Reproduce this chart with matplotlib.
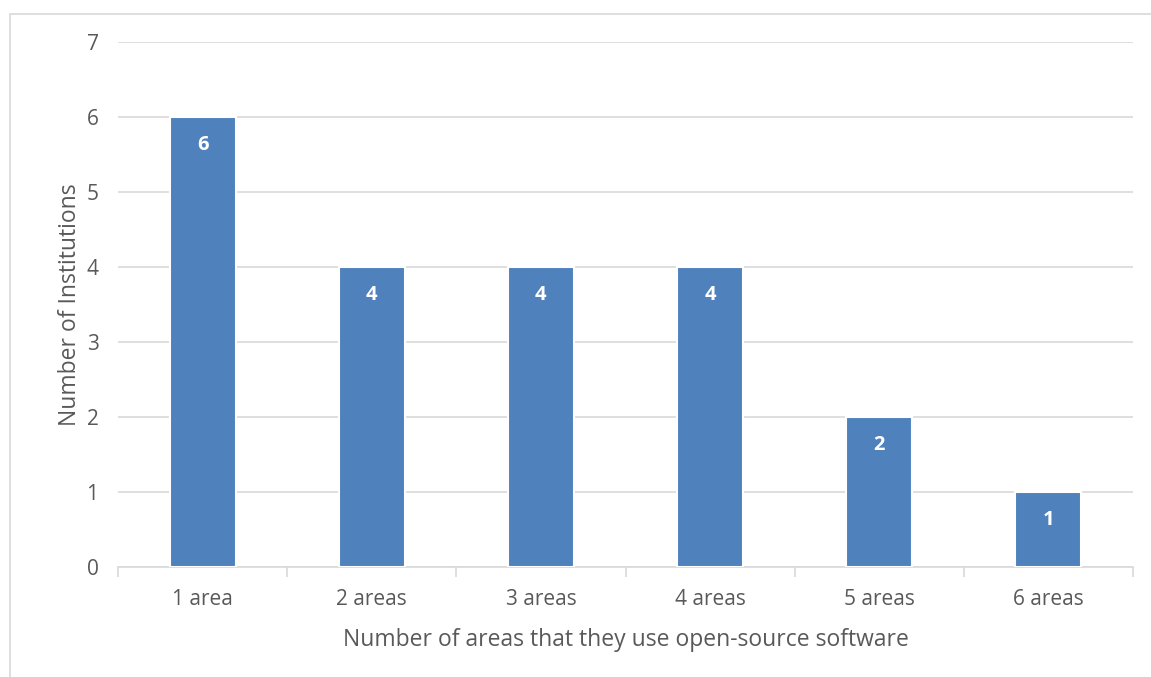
import matplotlib
matplotlib.use("Agg")
import matplotlib.pyplot as plt
from matplotlib.patches import Rectangle

categories = ["1 area", "2 areas", "3 areas", "4 areas", "5 areas", "6 areas"]
values = [6, 4, 4, 4, 2, 1]
yticks = [0, 1, 2, 3, 4, 5, 6, 7]

plt.rcParams['font.family'] = ['Open Sans', 'DejaVu Sans']
text_color = '#595959'
grid_color = '#D9D9D9'

fig = plt.figure(figsize=(11.51, 6.77), dpi=100)
ax = fig.add_axes([118/1151, 1-567/677, (1133-118)/1151, (567-42)/677])

# outer chart frame
fig.patches.append(Rectangle((10/1151, -0.05), 1.2, 1-14/677+0.05, transform=fig.transFigure,
                             fill=False, edgecolor='#D9D9D9', linewidth=1.2, zorder=0))

x = list(range(len(categories)))
bars = ax.bar(x, values, width=0.39, color='#4F81BD', edgecolor='white', linewidth=1.5, zorder=3)
for b, v in zip(bars, values):
    ax.text(b.get_x() + b.get_width()/2, v - 0.37, str(v), ha='center', va='center',
            color='white', fontsize=14.5, fontweight='bold', zorder=4)

ax.set_xlim(-0.5, len(categories) - 0.5)
ax.set_ylim(0, 7)
ax.set_yticks(yticks)
ax.yaxis.grid(True, color=grid_color, linewidth=1.2, zorder=0)
ax.set_axisbelow(True)
for s in ['top', 'right', 'left']:
    ax.spines[s].set_visible(False)
ax.spines['bottom'].set_color(grid_color)
ax.spines['bottom'].set_linewidth(1.2)
ax.spines['bottom'].set_zorder(2)

ax.set_xticks([i - 0.5 for i in range(len(categories) + 1)], minor=False)
ax.set_xticklabels([])
ax.set_xticks(x, minor=True)
ax.set_xticklabels(categories, minor=True)
ax.tick_params(axis='x', which='major', length=7, color=grid_color, width=1.2)
ax.tick_params(axis='x', which='minor', length=0, pad=16, labelsize=15, labelcolor=text_color)
ax.tick_params(axis='y', length=0, pad=14, labelsize=15, labelcolor=text_color)

ax.set_xlabel("Number of areas that they use open-source software", fontsize=16.5, color=text_color, labelpad=13)
ax.set_ylabel("Number of Institutions", fontsize=16.5, color=text_color, labelpad=3)

fig.savefig("out.png", dpi=100)
